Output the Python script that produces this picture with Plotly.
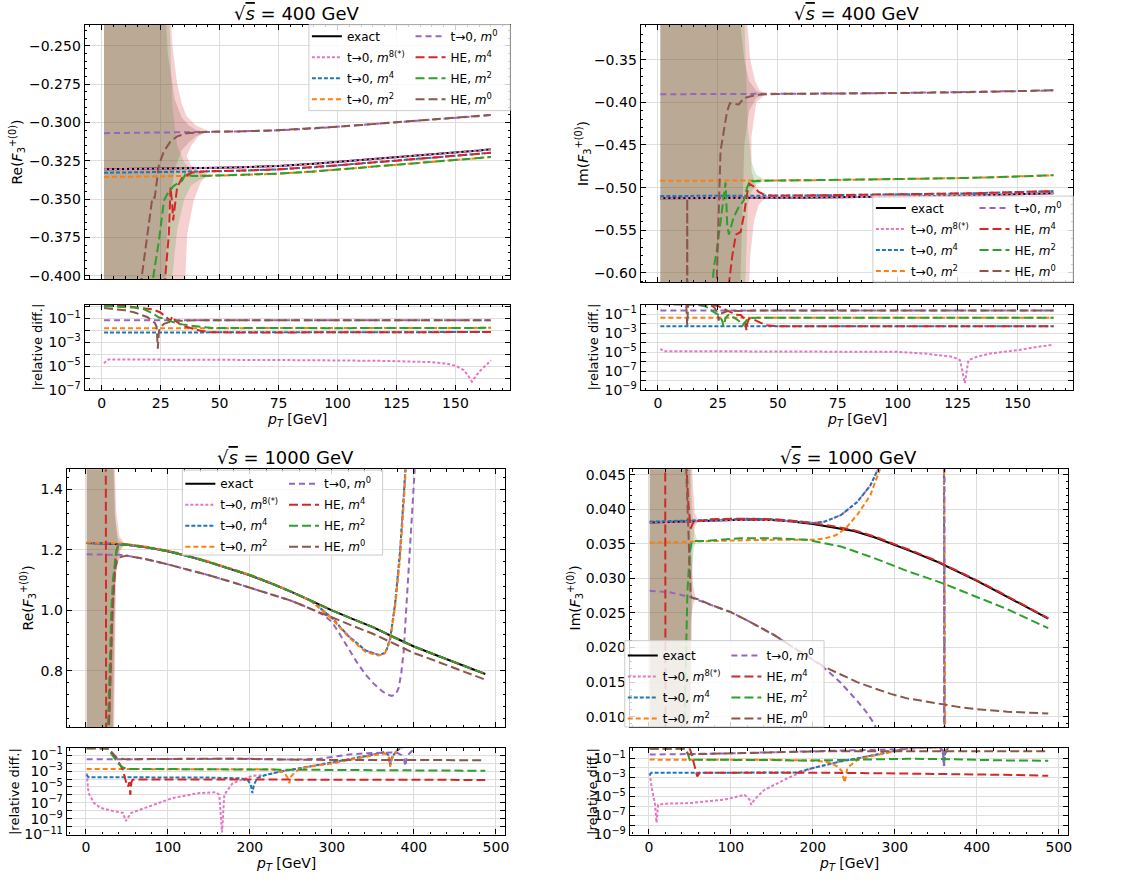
import plotly.graph_objects as go

W, H = 1123, 885

# ===================== DATA =====================
# ---- Panel A: Re(F3+(0)), sqrt(s)=400 GeV ----
A_pt = [1, 10, 20, 30, 40, 50, 60, 75, 90, 100, 110, 125, 140, 150, 160, 165]
A_exact = [-0.3306, -0.3305, -0.3303, -0.3300, -0.3298, -0.3296, -0.3292, -0.3284, -0.3270, -0.3258, -0.3246, -0.3228, -0.3210, -0.3197, -0.3183, -0.3175]
A_m8 = [-0.3306, -0.3305, -0.3303, -0.3300, -0.3298, -0.3296, -0.3292, -0.3284, -0.3270, -0.3258, -0.3246, -0.3228, -0.3210, -0.3197, -0.3183, -0.3175]
A_m4 = [-0.3328, -0.3327, -0.3325, -0.3322, -0.3320, -0.3318, -0.3314, -0.3306, -0.3292, -0.3280, -0.3268, -0.3250, -0.3232, -0.3219, -0.3205, -0.3198]
A_m2 = [-0.3356, -0.3355, -0.3353, -0.3350, -0.3348, -0.3346, -0.3342, -0.3334, -0.3320, -0.3308, -0.3296, -0.3278, -0.3260, -0.3246, -0.3232, -0.3225]
A_m0 = [-0.3070, -0.3069, -0.3067, -0.3065, -0.3063, -0.3061, -0.3058, -0.3051, -0.3039, -0.3028, -0.3017, -0.3000, -0.2984, -0.2972, -0.2959, -0.2951]
A_he4_x = [1, 15, 25, 27.1, 28.5, 29.2, 29.9, 30.3, 31.3, 32.0, 34.1, 38.3, 44.7] + A_pt[5:]
A_he4_y = [-0.60, -0.58, -0.50, -0.3983, -0.3725, -0.3424, -0.3532, -0.3639, -0.3510, -0.3424, -0.3360, -0.3327, -0.3318] + A_m4[5:]
A_he2_x = [1, 15, 21.9, 24.3, 26.4, 27.8, 30.6, 34.1, 35.5, 38.3, 41.8] + A_pt[5:]
A_he2_y = [-0.60, -0.55, -0.4004, -0.3768, -0.3510, -0.3467, -0.3413, -0.3381, -0.3338, -0.3349, -0.3349] + A_m2[5:]
A_he0_x = [1, 10, 17.0, 19.5, 21.5, 22.5, 24.3, 26.4, 29.2, 32.0, 36.2, 44.7] + A_pt[5:]
A_he0_y = [-0.60, -0.55, -0.4004, -0.3725, -0.3489, -0.3490, -0.3274, -0.3188, -0.3123, -0.3091, -0.3070, -0.3061] + A_m0[5:]
A_band_he0_x = [1, 26, 28, 31, 34, 37, 40, 45, 40, 37, 34, 31, 28, 26, 1]
A_band_he0_y = [-0.2, -0.2, -0.255, -0.285, -0.297, -0.302, -0.305, -0.3062, -0.309, -0.313, -0.318, -0.33, -0.36, -0.45, -0.45]
A_band_he2_x = [1, 28, 30, 32, 35, 38, 42, 47, 42, 38, 35, 32, 30, 28, 1]
A_band_he2_y = [-0.2, -0.2, -0.29, -0.315, -0.326, -0.331, -0.333, -0.3348, -0.337, -0.341, -0.350, -0.37, -0.40, -0.45, -0.45]
A_band_he4_x = [1, 28, 30, 32, 34, 36, 40, 45, 41, 38, 36, 38, 41, 45, 42, 39, 36.3, 34, 1]
A_band_he4_y = [-0.2, -0.2, -0.25, -0.275, -0.288, -0.296, -0.302, -0.3055, -0.309, -0.315, -0.322, -0.328, -0.331, -0.3335, -0.339, -0.351, -0.3725, -0.45, -0.45]
# relative differences, panel A
A_r_m0 = [0.0715, 0.0715, 0.0714, 0.0714, 0.0713, 0.0713, 0.0712, 0.0711, 0.0710, 0.0709, 0.0709, 0.0708, 0.0707, 0.0706, 0.0706, 0.0705]
A_r_m2 = [0.0151, 0.0151, 0.0151, 0.0152, 0.0152, 0.0152, 0.0153, 0.0153, 0.0154, 0.0155, 0.0156, 0.0157, 0.0158, 0.0160, 0.0162, 0.0164]
A_r_m4 = [0.0067, 0.0067, 0.0067, 0.0067, 0.0067, 0.0067, 0.0068, 0.0068, 0.0068, 0.0069, 0.0069, 0.0070, 0.0071, 0.0071, 0.0072, 0.0073]
A_r_m8_x = [1, 2, 3, 10, 30, 60, 90, 120, 140, 146, 150, 153.6, 155.7, 157, 158, 160, 163, 165]
A_r_m8 = [1.7e-5, 3.0e-5, 3.7e-5, 3.7e-5, 3.6e-5, 3.4e-5, 3.2e-5, 2.8e-5, 2.2e-5, 1.7e-5, 1.1e-5, 4.7e-6, 1.3e-6, 5.1e-7, 9.7e-7, 3.5e-6, 1.2e-5, 3.2e-5]
A_r_he0_x = [1, 5, 10, 14, 17, 19.5, 21.5, 22.5, 23.3, 23.8, 24.3, 25, 26.4, 29.2, 32, 36, 40] + A_pt[5:]
A_r_he0 = [0.75, 0.65, 0.48, 0.32, 0.21, 0.128, 0.057, 0.045, 0.02, 3e-4, 0.009, 0.02, 0.035, 0.054, 0.064, 0.0712, 0.0713] + A_r_m0[5:]
A_r_he2_x = [1, 6.7, 13.7, 18.0, 21.5, 24.3, 26.4, 28.5, 30.6, 34.1, 37.7, 41.8, 47.5] + A_pt[6:]
A_r_he2 = [1.11, 0.98, 0.81, 0.59, 0.28, 0.12, 0.10, 0.065, 0.047, 0.032, 0.025, 0.020, 0.0158] + A_r_m2[6:]
A_r_he4_x = [1, 9.9, 15.5, 21.5, 24.9, 27.8, 29.2, 29.9, 31.3, 34.1, 38.3, 41.8, 46.1] + A_pt[5:]
A_r_he4 = [1.26, 1.11, 0.81, 0.59, 0.32, 0.12, 0.065, 0.15, 0.065, 0.025, 0.015, 0.0095, 0.0069] + A_r_m4[5:]

# ---- Panel B: Im(F3+(0)), sqrt(s)=400 GeV ----
B_pt = [1, 10, 20, 30, 40, 50, 60, 75, 90, 100, 110, 125, 140, 150, 160, 165]
B_exact = [-0.5124, -0.5124, -0.5123, -0.5122, -0.5121, -0.5120, -0.5118, -0.5114, -0.5110, -0.5106, -0.5102, -0.5095, -0.5086, -0.5080, -0.5072, -0.5066]
B_m8 = [-0.5124, -0.5124, -0.5123, -0.5122, -0.5121, -0.5120, -0.5118, -0.5114, -0.5110, -0.5106, -0.5102, -0.5095, -0.5086, -0.5080, -0.5072, -0.5066]
B_m4 = [-0.5098, -0.5098, -0.5097, -0.5096, -0.5095, -0.5094, -0.5092, -0.5088, -0.5084, -0.5080, -0.5076, -0.5069, -0.5060, -0.5054, -0.5046, -0.5040]
B_m2 = [-0.4920, -0.4920, -0.4919, -0.4918, -0.4917, -0.4916, -0.4914, -0.4910, -0.4906, -0.4902, -0.4897, -0.4889, -0.4878, -0.4870, -0.4861, -0.4855]
B_m0 = [-0.3905, -0.3905, -0.3904, -0.3903, -0.3902, -0.3901, -0.3900, -0.3897, -0.3894, -0.3891, -0.3888, -0.3883, -0.3876, -0.3871, -0.3864, -0.3859]
B_he4_x = [1, 15, 25, 29.5, 31, 32.5, 34.5, 36, 37, 38, 40, 42, 45] + B_pt[5:]
B_he4_y = [-0.70, -0.68, -0.65, -0.615, -0.58, -0.555, -0.552, -0.53, -0.51, -0.495, -0.499, -0.505, -0.509] + B_m4[5:]
B_he2_x = [1, 15, 22.6, 23.5, 24.5, 25.4, 26.8, 28.2, 28.9, 29.6, 31.6, 33.7, 35.8, 37.2, 38.3, 41.4, 45] + B_pt[5:]
B_he2_y = [-0.70, -0.68, -0.615, -0.59, -0.575, -0.5537, -0.5228, -0.4939, -0.545, -0.555, -0.5344, -0.5228, -0.5151, -0.4997, -0.4925, -0.4921, -0.4918] + B_m2[5:]
B_he0_x = [1, 11.8, 12.2, 12.5, 22, 24.4, 26.1, 28.8, 30, 33.7, 35.8, 41.4] + B_pt[5:]
B_he0_y = [-1.05, -1.0, -0.513, -1.0, -0.95, -0.62, -0.457, -0.411, -0.401, -0.4025, -0.395, -0.391] + B_m0[5:]
B_band_he0_x = [1, 34, 36, 38, 41, 44, 41, 38, 36, 34, 1]
B_band_he0_y = [-0.3, -0.3, -0.35, -0.375, -0.386, -0.3905, -0.395, -0.41, -0.45, -0.65, -0.65]
B_band_he2_x = [1, 36, 37.5, 39, 41, 45, 41, 39, 37.5, 36, 1]
B_band_he2_y = [-0.3, -0.3, -0.43, -0.47, -0.485, -0.4915, -0.497, -0.505, -0.52, -0.65, -0.65]
B_band_he4_x = [1, 37, 38.5, 40.5, 42.5, 45, 41, 39, 39, 41, 45, 42, 40, 38.5, 37.5, 1]
B_band_he4_y = [-0.3, -0.3, -0.35, -0.375, -0.386, -0.390, -0.40, -0.44, -0.48, -0.50, -0.512, -0.52, -0.54, -0.58, -0.65, -0.65]
B_r_m0 = [0.2379, 0.2379, 0.2379, 0.2380, 0.2380, 0.2380, 0.2380, 0.2380, 0.2380, 0.2381, 0.2381, 0.2381, 0.2381, 0.2380, 0.2382, 0.2382]
B_r_m2 = [0.0398, 0.0398, 0.0398, 0.0398, 0.0398, 0.0399, 0.0399, 0.0399, 0.0399, 0.0400, 0.0400, 0.0400, 0.0401, 0.0401, 0.0402, 0.0402]
B_r_m4 = [0.0051, 0.0051, 0.0051, 0.0051, 0.0051, 0.0051, 0.0051, 0.0052, 0.0052, 0.0052, 0.0052, 0.0052, 0.0052, 0.0052, 0.0053, 0.0053]
B_r_m8_x = [1, 2.3, 30, 60, 100, 111, 123, 126, 128, 129.5, 133, 138.5, 150, 158, 165]
B_r_m8 = [2.3e-5, 1.2e-5, 1.2e-5, 1.15e-5, 1.05e-5, 7.1e-6, 3.2e-6, 1.4e-6, 5.4e-9, 1.4e-6, 3.2e-6, 7.1e-6, 1.6e-5, 3.4e-5, 6e-5]
B_r_he0_x = [1, 5, 10, 11.8, 12.2, 12.6, 15, 20, 22, 23.5, 24.4, 25, 25.3, 25.6, 26.1, 28.8, 30, 33.7, 35.8, 41.4] + B_pt[5:]
B_r_he0 = [1.1, 1.1, 1.05, 1.0, 0.006, 1.0, 1.0, 0.95, 0.85, 0.5, 0.21, 0.08, 0.02, 0.05, 0.108, 0.198, 0.217, 0.214, 0.229, 0.237] + B_r_m0[5:]
B_r_he2_x = [1, 10, 15, 20, 22.6, 23.5, 25.4, 26.8, 27.3, 28.2, 28.9, 29.6, 31.6, 33.7, 35.3, 35.8, 37.2, 38.3, 41.4] + B_pt[5:]
B_r_he2 = [1.1, 1.1, 1.05, 0.6, 0.20, 0.15, 0.08, 0.02, 0.005, 0.036, 0.064, 0.083, 0.043, 0.02, 0.006, 0.01, 0.025, 0.039, 0.040] + B_r_m2[5:]
B_r_he4_x = [1, 10, 20, 25, 29.5, 31, 32.5, 34.5, 36, 36.9, 37.3, 38, 40, 42, 45] + B_pt[5:]
B_r_he4 = [1.1, 1.1, 1.1, 0.7, 0.20, 0.13, 0.083, 0.077, 0.034, 0.002, 0.012, 0.034, 0.026, 0.015, 0.0067] + B_r_m4[5:]

# ---- Panel C: Re(F3+(0)), sqrt(s)=1000 GeV ----
C_pt = [1, 25, 50, 75, 100, 125, 150, 175, 200, 225, 250, 275, 300, 325, 350, 375, 400, 425, 450, 487]
C_exact = [1.2225, 1.2215, 1.2170, 1.2080, 1.1955, 1.1790, 1.1595, 1.1385, 1.1160, 1.0900, 1.0620, 1.0310, 0.9995, 0.9715, 0.9440, 0.9115, 0.8800, 0.8535, 0.8275, 0.7890]
C_m4_x = C_pt[:12] + [290, 300, 320, 341, 357, 364, 367, 371, 377, 383, 387, 390, 395]
C_m4_y = C_exact[:12] + [0.997, 0.975, 0.915, 0.867, 0.852, 0.858, 0.872, 0.905, 1.02, 1.19, 1.353, 1.467, 1.7]
C_m8_x = list(C_m4_x)
C_m8_y = list(C_m4_y)
C_m2_x = C_pt[:12] + [290, 300, 320, 341, 357, 364, 367, 371, 377, 383, 387, 390, 395]
C_m2_y = [1.2247, 1.2237, 1.2192, 1.2102, 1.1977, 1.1811, 1.1616, 1.1405, 1.1180, 1.0920, 1.0621, 1.0290] + [0.994, 0.972, 0.912, 0.862, 0.850, 0.856, 0.870, 0.900, 1.01, 1.17, 1.33, 1.45, 1.68]
C_m0_x = [1, 25, 40, 50, 75, 100, 125, 150, 175, 200, 225, 250, 275, 290, 300, 310, 320, 330, 341, 351, 361, 367, 373, 378, 381.4, 384.5, 387.5, 390.5, 393.6, 397, 401, 405]
C_m0_y = [1.1855, 1.1850, 1.1835, 1.1810, 1.1680, 1.1520, 1.1350, 1.1160, 1.0960, 1.0755, 1.0540, 1.0320, 1.0040, 0.9840, 0.9610, 0.9200, 0.8740, 0.8300, 0.7870, 0.7570, 0.7325, 0.7220, 0.7160, 0.7220, 0.7430, 0.7900, 0.8630, 0.9900, 1.1350, 1.3000, 1.4670, 1.6500]
C_he0_x = [1, 26, 28, 30, 32, 34, 36, 38, 41] + C_pt[2:]
C_he0_y = [0.3, 0.3, 0.60, 0.80, 0.95, 1.07, 1.14, 1.165, 1.175] + [1.181, 1.168, 1.152, 1.135, 1.116, 1.096, 1.0755, 1.054, 1.032, 1.004, 0.9755, 0.9487, 0.9222, 0.8901, 0.8584, 0.8335, 0.8081, 0.7701]
C_he2_x = [1, 25.5, 27, 29, 31, 33, 35, 37, 40, 45] + C_pt[2:]
C_he2_y = [0.3, 0.3, 0.62, 0.85, 1.0, 1.10, 1.16, 1.195, 1.212, 1.2185] + C_exact[2:]
C_he4_x = [1, 23.5, 24.3, 24.8, 27, 28.5, 30, 32, 34, 36, 38, 40, 45] + C_pt[2:]
C_he4_y = [1.6, 1.6, 1.5, 0.5, 0.5, 0.62, 0.80, 0.98, 1.10, 1.17, 1.205, 1.215, 1.219] + C_exact[2:]
C_band_he0_x = [1, 33, 36, 40, 44, 40, 36, 33, 1]
C_band_he0_y = [1.6, 1.6, 1.30, 1.20, 1.178, 1.165, 1.12, 0.5, 0.5]
C_band_he2_x = [1, 32, 35, 39, 46, 39, 35, 32, 1]
C_band_he2_y = [1.6, 1.6, 1.32, 1.24, 1.218, 1.19, 1.10, 0.5, 0.5]
C_band_he4_x = [1, 34, 37, 41, 48, 41, 37, 34, 1]
C_band_he4_y = [1.6, 1.6, 1.33, 1.245, 1.219, 1.195, 1.12, 0.5, 0.5]
C_r_m0_x = [1, 25, 50, 100, 150, 200, 250, 270, 285, 300, 320, 340, 360, 373, 380, 385, 388, 389.5, 391, 394, 398, 402]
C_r_m0 = [0.030, 0.030, 0.030, 0.036, 0.037, 0.036, 0.028, 0.030, 0.035, 0.060, 0.120, 0.180, 0.210, 0.220, 0.190, 0.100, 0.030, 0.004, 0.040, 0.150, 0.400, 0.800]
C_r_he0_x = [1, 10, 20, 28, 30, 32, 34, 36, 38, 41] + C_pt[2:]
C_r_he0 = [0.75, 0.75, 0.75, 0.72, 0.345, 0.22, 0.124, 0.067, 0.046, 0.038] + [0.030, 0.033, 0.036, 0.037, 0.037, 0.037, 0.036, 0.033, 0.028, 0.026, 0.025, 0.024, 0.024, 0.024, 0.024, 0.024, 0.024, 0.024]
C_r_m2_x = C_pt[:10] + [235, 242, 246, 248, 250, 254, 260, 275, 300, 320, 340, 357, 365, 369, 371, 373, 376, 380, 384]
C_r_m2 = [0.0018, 0.0018, 0.0018, 0.0018, 0.0018, 0.0018, 0.0018, 0.0018, 0.0018, 0.0017] + [1.3e-3, 6e-4, 1.5e-4, 3e-5, 2e-4, 6e-4, 1.7e-3, 4e-3, 9e-3, 0.025, 0.06, 0.12, 0.16, 0.05, 0.0035, 0.03, 0.15, 0.5, 1.0]
C_r_m4_x = [1, 3, 25, 50, 100, 150, 190, 198, 201, 203, 205, 209, 219, 240, 260, 280, 300, 320, 341, 355, 365, 369, 371, 373, 377, 383, 388]
C_r_m4 = [3.3e-4, 1.7e-4, 1.7e-4, 1.7e-4, 1.6e-4, 1.5e-4, 1.2e-4, 6e-5, 2e-5, 1.7e-6, 2e-5, 1.3e-4, 3.2e-4, 1e-3, 2.2e-3, 5e-3, 0.011, 0.03, 0.075, 0.15, 0.26, 0.1, 5.7e-3, 0.05, 0.2, 0.74, 1.2]
C_r_m8_x = [1, 3.2, 9.9, 17.9, 33.2, 45.3, 48.6, 55.4, 77.8, 106, 138.4, 158.7, 162.7, 166, 168.8, 179, 203] + C_r_m4_x[12:]
C_r_m8 = [5.2e-4, 1.7e-6, 9.5e-8, 2.3e-8, 8.9e-9, 5.5e-9, 5e-10, 5.5e-9, 3.7e-8, 4.1e-7, 1.7e-6, 2.1e-6, 1.05e-6, 1.8e-11, 1.05e-6, 3e-5, 2.5e-4] + C_r_m4[12:]
C_r_he2_x = [1, 10, 20, 27, 29, 31, 33, 35, 37, 40, 45, 50, 100, 150, 200, 250, 300, 350, 400, 450, 487]
C_r_he2 = [0.75, 0.75, 0.75, 0.6, 0.30, 0.18, 0.10, 0.05, 0.022, 0.008, 0.003, 0.0018, 0.0018, 0.0017, 0.0017, 0.0016, 0.0015, 0.0014, 0.0013, 0.0012, 0.0011]
C_r_he4_x = [1, 10, 20, 27, 29, 32, 35, 38, 41, 45, 49.4, 51.4, 53, 54.2, 55.5, 57, 60, 100, 150, 200, 250, 300, 350, 400, 450, 487]
C_r_he4 = [0.75, 0.75, 0.75, 0.75, 0.5, 0.2, 0.08, 0.03, 9e-3, 1.5e-3, 3e-5, 1.1e-5, 4e-5, 1e-6, 4e-5, 8e-5, 9e-5, 9e-5, 9e-5, 9e-5, 8.5e-5, 8.5e-5, 8e-5, 8e-5, 7.7e-5, 7.7e-5]

# ---- Panel D: Im(F3+(0)), sqrt(s)=1000 GeV ----
D_pt = [1, 25, 50, 75, 100, 125, 150, 175, 200, 225, 250, 275, 300, 325, 350, 375, 400, 425, 450, 487]
D_exact = [0.03810, 0.03818, 0.03830, 0.03843, 0.03852, 0.03852, 0.03844, 0.03822, 0.03787, 0.03742, 0.03687, 0.03595, 0.03487, 0.03370, 0.03249, 0.03110, 0.02964, 0.02810, 0.02655, 0.02417]
D_m4_x = D_pt[:9] + [214, 234, 254, 270, 281, 290, 300, 340, 359, 359.8, 360.4, 361, 400, 487]
D_m4_y = [0.03822, 0.03830, 0.03842, 0.03856, 0.03864, 0.03864, 0.03856, 0.03834, 0.03800] + [0.0382, 0.03915, 0.04105, 0.04343, 0.0462, 0.050, 0.055, 0.080, 0.100, 0.046, 0.008, -0.010, -0.020, -0.020]
D_m8_x = D_pt[:9] + D_m4_x[9:]
D_m8_y = D_exact[:8] + [0.03805] + D_m4_y[9:]
D_m2_x = D_pt[:9] + [214, 228, 240, 254, 270, 283, 295, 340, 359, 360, 361, 362, 400, 487]
D_m2_y = [0.03520, 0.03522, 0.03530, 0.03540, 0.03550, 0.03555, 0.03558, 0.03558, 0.03560] + [0.03575, 0.03625, 0.03725, 0.0392, 0.0420, 0.0462, 0.052, 0.080, 0.100, 0.046, 0.008, -0.010, -0.020, -0.020]
D_m0_x = [1, 25, 40, 50, 75, 100, 125, 153, 175, 194, 214, 234, 254, 265, 275, 285, 340, 359, 359.8, 360.5, 361, 400]
D_m0_y = [0.02821, 0.02800, 0.02760, 0.02730, 0.02620, 0.02512, 0.02360, 0.02179, 0.02010, 0.01870, 0.01704, 0.01490, 0.01228, 0.01070, 0.00895, 0.00600, -0.01, -0.03, 0.0, 0.05, 0.07, 0.08]
D_he0_x = [1, 44, 45.5, 46.5, 47.5, 48.5, 49.5, 51, 53, 60, 75, 100, 125, 153, 175, 194, 214, 234, 254, 275, 295, 315, 336, 356, 377, 397, 437, 487]
D_he0_y = [0.06, 0.06, 0.046, 0.042, 0.038, 0.034, 0.030, 0.0275, 0.0272, 0.0270, 0.0262, 0.02512, 0.0236, 0.02179, 0.0201, 0.0187, 0.0172, 0.0161, 0.0150, 0.0141, 0.0133, 0.01265, 0.0122, 0.0118, 0.01142, 0.01112, 0.01072, 0.01047]
D_he2_x = [1, 43, 44, 45.5, 47, 48.5, 50, 52, 55, 72, 112, 153, 193, 234, 274, 315, 356, 396, 436, 487]
D_he2_y = [-0.01, -0.01, 0.012, 0.022, 0.028, 0.031, 0.0338, 0.0352, 0.0354, 0.03544, 0.03582, 0.03582, 0.03558, 0.03463, 0.03297, 0.03107, 0.0294, 0.0275, 0.0256, 0.0228]
D_he4_x = [1, 19.8, 20.4, 30, None, 45, 46.5, 48, 49.5, 51, 53, 56, 60] + D_pt[3:]
D_he4_y = [0.06, 0.06, 0.0, 0.0, None, 0.06, 0.045, 0.041, 0.0385, 0.0372, 0.0378, 0.0383, 0.0383] + [0.03855, 0.03865, 0.03865, 0.03857, 0.03835, 0.03800, 0.03754, 0.03699, 0.03607, 0.03498, 0.0338, 0.03259, 0.03120, 0.02973, 0.02818, 0.02663, 0.02424]
D_band_he0_x = [1, 49, 51, 54, 57, 54, 51, 49, 1]
D_band_he0_y = [0.06, 0.06, 0.034, 0.0290, 0.0272, 0.0262, 0.024, 0.0, 0.0]
D_band_he2_x = [1, 50, 52, 55, 59, 55, 52, 50, 1]
D_band_he2_y = [0.06, 0.06, 0.042, 0.037, 0.0356, 0.0345, 0.030, 0.0, 0.0]
D_band_he4_x = [1, 51, 53, 56, 60, 56, 53, 51, 1]
D_band_he4_y = [0.06, 0.06, 0.045, 0.0395, 0.0384, 0.0374, 0.034, 0.0, 0.0]
D_r_m0_x = [1, 25, 50, 75, 100, 125, 150, 175, 200, 225, 250, 275, 285, 300, 320, 340, 355, 358.5, 359.6, 360.2, 361, 365]
D_r_m0 = [0.26, 0.265, 0.287, 0.318, 0.348, 0.388, 0.433, 0.48, 0.52, 0.58, 0.65, 0.75, 0.83, 0.95, 1.15, 1.3, 1.5, 0.6, 0.017, 0.6, 1.5, 2.0]
D_r_he0_x = [1, 20, 44, 46, 48, 52, 75, 100, 150, 200, 254, 295, 356, 397, 437, 487]
D_r_he0 = [1.1, 1.1, 1.1, 0.5, 0.27, 0.28, 0.318, 0.348, 0.433, 0.55, 0.595, 0.606, 0.634, 0.628, 0.608, 0.567]
D_r_he2_x = [1, 20, 44, 47.7, 49.8, 52, 55, 75, 112, 153, 193, 234, 274, 315, 356, 396, 436, 487]
D_r_he2 = [1.1, 1.1, 1.1, 0.3, 0.07, 0.075, 0.075, 0.078, 0.071, 0.068, 0.060, 0.069, 0.083, 0.093, 0.087, 0.072, 0.062, 0.059]
D_r_he4_x = [1, 20, 50, 52, 53.8, 55.8, 59, 62, 100, 150, 200, 250, 300, 350, 400, 450, 487]
D_r_he4 = [1.1, 1.1, 1.1, 0.3, 0.067, 0.013, 1.3e-3, 3.2e-3, 3.3e-3, 3.3e-3, 3.2e-3, 3.0e-3, 2.8e-3, 2.5e-3, 2.1e-3, 1.8e-3, 1.5e-3]
D_r_m2_x = [1, 25, 50, 100, 150, 200, 220, 230, 235, 238.8, 242, 246, 250, 254, 270, 283, 295, 310, 320, 355, 359, 360, 361, 365]
D_r_m2 = [0.076, 0.077, 0.078, 0.078, 0.074, 0.06, 0.04, 0.014, 0.005, 3e-4, 0.009, 0.02, 0.04, 0.067, 0.16, 0.3, 0.49, 0.9, 1.2, 1.5, 0.6, 0.25, 0.6, 1.5]
D_r_m4_x = [1, 3, 25, 100, 180, 198, 214, 234, 254, 275, 295, 315, 330, 355, 359, 360, 361, 365]
D_r_m4 = [1.9e-3, 3.2e-3, 3.2e-3, 3.2e-3, 3.3e-3, 9e-3, 0.02, 0.05, 0.1, 0.22, 0.49, 1.17, 1.5, 1.5, 0.3, 0.017, 0.3, 1.5]
D_r_m8_x = [1, 3.2, 7.3, 9.3, 11.3, 23.5, 51.8, 92.3, 116.6, 122.7, 124.7, 128.7, 140.9, 173.3] + D_r_m4_x[5:]
D_r_m8 = [2.8e-3, 1.1e-4, 2.1e-6, 1.8e-8, 1.4e-6, 1.8e-6, 2.1e-6, 4.7e-6, 1.5e-5, 4.7e-6, 1.4e-6, 4.7e-6, 5.1e-5, 1.26e-3] + D_r_m4[5:]

# ===================== STYLE =====================
FONT = "DejaVu Sans"
STY = {
    'exact': dict(color='#000000', dash='solid', width=2.0, name='exact'),
    'm8': dict(color='#e377c2', dash='3px,2px', width=2.0, name='t→0, <i>m</i><sup>8(*)</sup>'),
    'm4': dict(color='#1f77b4', dash='4px,2px', width=2.0, name='t→0, <i>m</i><sup>4</sup>'),
    'm2': dict(color='#ff7f0e', dash='5px,3px', width=2.0, name='t→0, <i>m</i><sup>2</sup>'),
    'm0': dict(color='#9467bd', dash='6px,4px', width=2.0, name='t→0, <i>m</i><sup>0</sup>'),
    'he4': dict(color='#d62728', dash='9px,4px', width=2.0, name='HE, <i>m</i><sup>4</sup>'),
    'he2': dict(color='#2ca02c', dash='9px,4px', width=2.0, name='HE, <i>m</i><sup>2</sup>'),
    'he0': dict(color='#8c564b', dash='9px,4px', width=2.0, name='HE, <i>m</i><sup>0</sup>'),
}
BAND = {'he4': 'rgba(214,39,40,0.22)', 'he2': 'rgba(44,160,44,0.22)', 'he0': 'rgba(140,86,75,0.25)'}
COL1 = ['exact', 'm8', 'm4', 'm2']

fig = go.Figure()


def add_line(x, y, key, xa, ya, legends=None):
    st = STY[key]
    kw = dict(showlegend=False)
    if legends is not None:
        kw = dict(showlegend=True, legend=legends[0] if key in COL1 else legends[1],
                  legendgroup=f'{legends[0]}_{key}')
    assert len(x) == len(y), (key, xa, len(x), len(y))
    fig.add_trace(go.Scatter(x=x, y=y, mode='lines', xaxis=xa, yaxis=ya, name=st['name'],
                             line=dict(color=st['color'], width=st['width'], dash=st['dash']),
                             hoverinfo='skip', connectgaps=False, **kw))


def add_band(x, y, key, xa, ya):
    assert len(x) == len(y)
    fig.add_trace(go.Scatter(x=x, y=y, mode='lines', fill='toself', fillcolor=BAND[key],
                             line=dict(width=0, color=BAND[key]), xaxis=xa, yaxis=ya,
                             showlegend=False, hoverinfo='skip'))


panels = [
    dict(xa='x', ya='y', rxa='x2', rya='y2', legends=('legend', 'legend2'), pt=A_pt,
         exact=A_exact, m8=(A_pt, A_m8), m4=(A_pt, A_m4), m2=(A_pt, A_m2), m0=(A_pt, A_m0),
         he4=(A_he4_x, A_he4_y), he2=(A_he2_x, A_he2_y), he0=(A_he0_x, A_he0_y),
         bands={'he4': (A_band_he4_x, A_band_he4_y), 'he2': (A_band_he2_x, A_band_he2_y), 'he0': (A_band_he0_x, A_band_he0_y)},
         r={'m8': (A_r_m8_x, A_r_m8), 'm4': (A_pt, A_r_m4), 'm2': (A_pt, A_r_m2), 'm0': (A_pt, A_r_m0),
            'he4': (A_r_he4_x, A_r_he4), 'he2': (A_r_he2_x, A_r_he2), 'he0': (A_r_he0_x, A_r_he0)}),
    dict(xa='x3', ya='y3', rxa='x4', rya='y4', legends=('legend3', 'legend4'), pt=B_pt,
         exact=B_exact, m8=(B_pt, B_m8), m4=(B_pt, B_m4), m2=(B_pt, B_m2), m0=(B_pt, B_m0),
         he4=(B_he4_x, B_he4_y), he2=(B_he2_x, B_he2_y), he0=(B_he0_x, B_he0_y),
         bands={'he4': (B_band_he4_x, B_band_he4_y), 'he2': (B_band_he2_x, B_band_he2_y), 'he0': (B_band_he0_x, B_band_he0_y)},
         r={'m8': (B_r_m8_x, B_r_m8), 'm4': (B_pt, B_r_m4), 'm2': (B_pt, B_r_m2), 'm0': (B_pt, B_r_m0),
            'he4': (B_r_he4_x, B_r_he4), 'he2': (B_r_he2_x, B_r_he2), 'he0': (B_r_he0_x, B_r_he0)}),
    dict(xa='x5', ya='y5', rxa='x6', rya='y6', legends=('legend5', 'legend6'), pt=C_pt,
         exact=C_exact, m8=(C_m8_x, C_m8_y), m4=(C_m4_x, C_m4_y), m2=(C_m2_x, C_m2_y), m0=(C_m0_x, C_m0_y),
         he4=(C_he4_x, C_he4_y), he2=(C_he2_x, C_he2_y), he0=(C_he0_x, C_he0_y),
         bands={'he4': (C_band_he4_x, C_band_he4_y), 'he2': (C_band_he2_x, C_band_he2_y), 'he0': (C_band_he0_x, C_band_he0_y)},
         r={'m8': (C_r_m8_x, C_r_m8), 'm4': (C_r_m4_x, C_r_m4), 'm2': (C_r_m2_x, C_r_m2), 'm0': (C_r_m0_x, C_r_m0),
            'he4': (C_r_he4_x, C_r_he4), 'he2': (C_r_he2_x, C_r_he2), 'he0': (C_r_he0_x, C_r_he0)}),
    dict(xa='x7', ya='y7', rxa='x8', rya='y8', legends=('legend7', 'legend8'), pt=D_pt,
         exact=D_exact, m8=(D_m8_x, D_m8_y), m4=(D_m4_x, D_m4_y), m2=(D_m2_x, D_m2_y), m0=(D_m0_x, D_m0_y),
         he4=(D_he4_x, D_he4_y), he2=(D_he2_x, D_he2_y), he0=(D_he0_x, D_he0_y),
         bands={'he4': (D_band_he4_x, D_band_he4_y), 'he2': (D_band_he2_x, D_band_he2_y), 'he0': (D_band_he0_x, D_band_he0_y)},
         r={'m8': (D_r_m8_x, D_r_m8), 'm4': (D_r_m4_x, D_r_m4), 'm2': (D_r_m2_x, D_r_m2), 'm0': (D_r_m0_x, D_r_m0),
            'he4': (D_r_he4_x, D_r_he4), 'he2': (D_r_he2_x, D_r_he2), 'he0': (D_r_he0_x, D_r_he0)}),
]

for p in panels:
    for k in ['he4', 'he2', 'he0']:
        bx, by = p['bands'][k]
        add_band(bx, by, k, p['xa'], p['ya'])
    add_line(p['pt'], p['exact'], 'exact', p['xa'], p['ya'], p['legends'])
    for k in ['m8', 'm4', 'm2', 'm0', 'he4', 'he2', 'he0']:
        x, y = p[k]
        add_line(x, y, k, p['xa'], p['ya'], p['legends'])
    for k in ['m8', 'm4', 'm2', 'm0', 'he4', 'he2', 'he0']:
        x, y = p['r'][k]
        add_line(x, y, k, p['rxa'], p['rya'])


# ===================== LAYOUT =====================
def fx(px):
    return px / W


def fy(py):
    return 1 - py / H


TICKF = dict(family=FONT, size=14, color='black')
GRID = '#dedede'
common = dict(showline=True, linecolor='black', linewidth=1.2, mirror='allticks', ticks='inside',
              ticklen=5, tickwidth=1, tickcolor='black', showgrid=True, gridcolor=GRID,
              gridwidth=1, zeroline=False, tickfont=TICKF)

# domains in pixels: (x0, x1, ytop, ybottom)
mainbox = {'A': (85, 512, 22, 279.5), 'B': (643, 1077, 22, 283), 'C': (67, 507, 472, 733.3), 'D': (632, 1072, 472, 733.3)}
ratbox = {'A': (85, 512, 305.3, 392), 'B': (643, 1077, 305.3, 392), 'C': (67, 507, 754.7, 842), 'D': (632, 1072, 754.7, 842)}
xr_top = [-7.2, 173.2]
xr_bot = [-23.3, 511.3]
main_y = {
    'A': dict(range=[-0.4021, -0.2363], dtick=0.025, tick0=0, tickformat='.3f', minor=0.005),
    'B': dict(range=[-0.6112, -0.309], dtick=0.05, tick0=0, tickformat='.2f', minor=0.01),
    'C': dict(range=[0.6127, 1.4675], dtick=0.2, tick0=0, tickformat='.1f', minor=0.04),
    'D': dict(range=[0.00848, 0.04581], dtick=0.005, tick0=0, tickformat='.3f', minor=0.001),
}
rat_y = {'A': [-7, 0.17], 'B': [-9, 0.0], 'C': [-11, -0.13], 'D': [-9, 0.07]}
odd_dec = [k for k in range(-11, 1) if k % 2 != 0]
even_dec = [k for k in range(-11, 1) if k % 2 == 0]
tv_major = [10.0 ** k for k in odd_dec]
tt_major = ['10<sup>−%d</sup>' % (-k) for k in odd_dec]
tv_minor = [10.0 ** k for k in even_dec]

lay = {}
names = ['A', 'B', 'C', 'D']
for i, nm in enumerate(names):
    mi = 2 * i + 1
    ri = 2 * i + 2
    top = nm in ('A', 'B')
    xr = xr_top if top else xr_bot
    xdt = 25 if top else 100
    xmin = 5 if top else 20
    mb = mainbox[nm]
    rb = ratbox[nm]
    mx = 'xaxis' if mi == 1 else f'xaxis{mi}'
    my = 'yaxis' if mi == 1 else f'yaxis{mi}'
    lay[mx] = dict(common, domain=[fx(mb[0]), fx(mb[1])], range=xr, dtick=xdt, tick0=0,
                   showticklabels=False, anchor=f'y{mi}' if mi > 1 else 'y',
                   minor=dict(ticks='inside', ticklen=2.5, tickcolor='black', dtick=xmin, tick0=0, showgrid=False))
    my_d = main_y[nm]
    lay[my] = dict(common, domain=[fy(mb[3]), fy(mb[2])], range=my_d['range'], dtick=my_d['dtick'],
                   tick0=my_d['tick0'], tickformat=my_d['tickformat'], anchor=f'x{mi}' if mi > 1 else 'x',
                   minor=dict(ticks='inside', ticklen=2.5, tickcolor='black', dtick=my_d['minor'], tick0=0, showgrid=False))
    lay[f'xaxis{ri}'] = dict(common, domain=[fx(rb[0]), fx(rb[1])], range=xr, dtick=xdt, tick0=0,
                             anchor=f'y{ri}',
                             minor=dict(ticks='inside', ticklen=2.5, tickcolor='black', dtick=xmin, tick0=0, showgrid=False))
    lay[f'yaxis{ri}'] = dict(common, domain=[fy(rb[3]), fy(rb[2])], type='log', range=rat_y[nm],
                             tickmode='array', tickvals=tv_major, ticktext=tt_major, anchor=f'x{ri}',
                             minor=dict(tickmode='array', tickvals=tv_minor, ticks='inside', ticklen=5,
                                        tickcolor='black', showgrid=True, gridcolor=GRID, gridwidth=1))

# legends: (col1 x px, col2 x px, top y px) and legend box (x0, x1, y0, y1)
leg_pos = {
    'A': (308, 412, 19, (310, 512, 22, 109)),
    'B': (874, 978, 193, (876, 1077, 195.5, 282.5)),
    'C': (181, 285, 472, (183, 384, 473, 559)),
    'D': (625, 729, 646, (627, 827, 645.7, 733)),
}
shapes = []
for i, nm in enumerate(names):
    c1, c2, ty, box = leg_pos[nm]
    for j, cx in enumerate((c1, c2)):
        key = 'legend' if (2 * i + j) == 0 else f'legend{2 * i + j + 1}'
        lay[key] = dict(x=fx(cx), y=fy(ty), xanchor='left', yanchor='top', orientation='v',
                        bgcolor='rgba(0,0,0,0)', borderwidth=0, tracegroupgap=2,
                        font=dict(family=FONT, size=12, color='black'), itemclick=False)
    x0, x1, y0, y1 = box
    shapes.append(dict(type='rect', xref='paper', yref='paper', x0=fx(x0), x1=fx(x1), y0=fy(y1), y1=fy(y0),
                       fillcolor='rgba(255,255,255,0.8)', line=dict(color='#cccccc', width=1), layer='above'))

SQS = "√<span style='text-decoration:overline'><i>s</i></span> = %d GeV"
YRE = "Re(<i>F</i><sub>3</sub><sup>+(0)</sup>)"
YIM = "Im(<i>F</i><sub>3</sub><sup>+(0)</sup>)"
XPT = "<i>p</i><sub><i>T</i></sub> [GeV]"
RD = "|relative diff.|"
ann = []


def add_ann(text, px, py, size=14, angle=0):
    ann.append(dict(text=text, x=fx(px), y=fy(py), xref='paper', yref='paper', showarrow=False,
                    xanchor='center', yanchor='middle', textangle=angle,
                    font=dict(family=FONT, size=size, color='black')))


add_ann(SQS % 400, 298.5, 11, 18)
add_ann(SQS % 400, 860, 11, 18)
add_ann(SQS % 1000, 287, 460, 18)
add_ann(SQS % 1000, 852, 460, 18)
add_ann(YRE, 17, 150.5, 14, -90)
add_ann(YIM, 585, 152, 14, -90)
add_ann(YRE, 28, 602, 14, -90)
add_ann(YIM, 577, 602, 14, -90)
add_ann(RD, 38, 348, 13, -90)
add_ann(RD, 596, 348, 13, -90)
add_ann(RD, 14, 798, 13, -90)
add_ann(RD, 594, 798, 13, -90)
add_ann(XPT, 298.5, 422, 14)
add_ann(XPT, 860, 422, 14)
add_ann(XPT, 287, 872, 14)
add_ann(XPT, 852, 872, 14)

fig.update_layout(width=W, height=H, margin=dict(l=0, r=0, t=0, b=0), paper_bgcolor='white',
                  plot_bgcolor='white', font=dict(family=FONT, size=14, color='black'),
                  hovermode=False, shapes=shapes, annotations=ann, **lay)

fig.write_html("out.html")
